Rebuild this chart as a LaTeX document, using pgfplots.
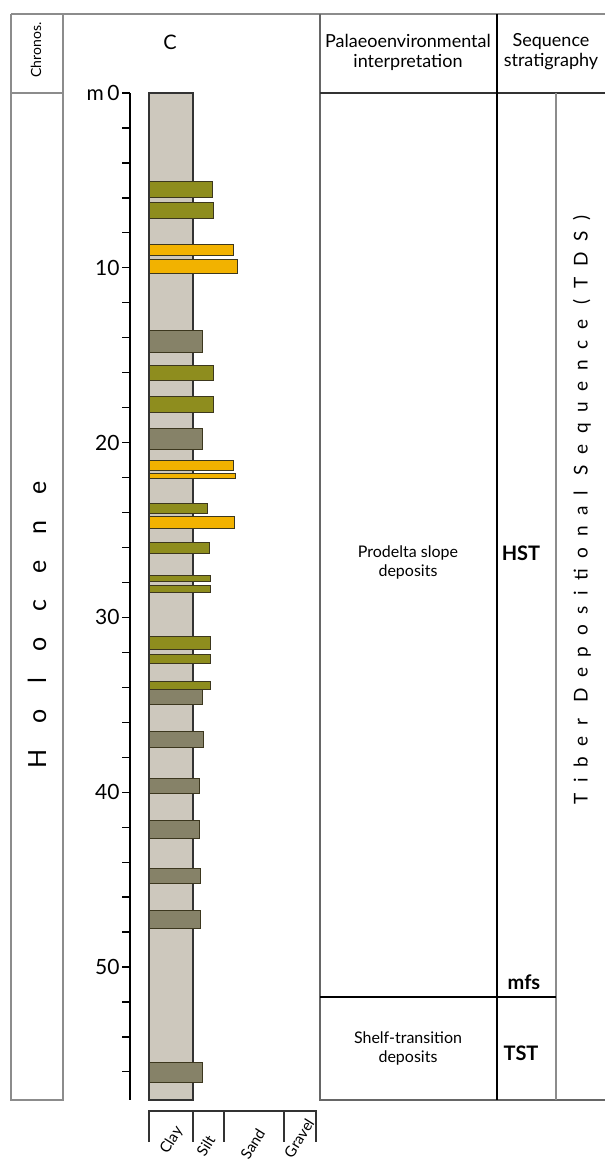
\documentclass[border=0pt]{standalone}
\usepackage{pgfplots}
\pgfplotsset{compat=1.18}
\usepackage{fontspec}
\setmainfont{Lato}
\definecolor{clay}{RGB}{205,200,189}
\definecolor{olivebed}{RGB}{142,141,30}
\definecolor{sandbed}{RGB}{242,178,0}
\definecolor{mudbed}{RGB}{134,130,104}
\definecolor{bedline}{RGB}{60,55,30}
\definecolor{framegray}{RGB}{140,140,140}
% bed: colour, top depth, base depth, grain-size extent
\newcommand{\bed}[4]{\addplot[fill=#1, draw=bedline, line width=0.5pt] coordinates {(0,#2) (#4,#2) (#4,#3) (0,#3)} --cycle;}
\begin{document}
\begin{tikzpicture}
\begin{scope}[x=0.5pt,y=-0.5pt]
\path[use as bounding box] (0,0) rectangle (605,1164);
% frame
\draw[framegray, line width=1pt] (11,14) -- (605,14);
\draw[framegray, line width=0.8pt] (11,14) -- (11,1100) -- (63,1100) -- (63,14);
\draw[framegray, line width=0.8pt] (11,93) -- (63,93);
\draw[black!60, line width=0.8pt] (320,14) -- (320,1100) -- (605,1100);
\draw[black!80, line width=0.8pt] (320,93) -- (605,93);
\draw[black, line width=0.8pt] (497,14) -- (497,1100);
\draw[framegray, line width=0.8pt] (556,93) -- (556,1100);
\draw[black, line width=0.8pt] (320,997) -- (556,997);
% texts
\node[rotate=90, font=\fontsize{7}{8}\selectfont] at (36,50) {Chronos.};
\node[font=\fontsize{10}{12}\selectfont] at (170,42) {C};
\node[align=center, font=\fontsize{9}{10}\selectfont] at (408,52) {Palaeoenvironmental\\interpretation};
\node[align=center, font=\fontsize{9}{10}\selectfont] at (551,52) {Sequence\\stratigraphy};
\node[align=center, font=\fontsize{8}{9.5}\selectfont] at (408,562) {Prodelta slope\\deposits};
\node[align=center, font=\fontsize{8}{9.5}\selectfont] at (408,1048) {Shelf-transition\\deposits};
\node[font=\fontsize{10}{12}\selectfont\bfseries] at (521,553) {HST};
\node[font=\fontsize{10}{12}\selectfont\bfseries] at (524,982) {mfs};
\node[font=\fontsize{10}{12}\selectfont\bfseries] at (521,1053) {TST};
\node[rotate=90, font=\fontsize{9.5}{10}\selectfont\addfontfeatures{LetterSpace=56}] at (582,510) {Tiber Depositional Sequence (TDS)};
\node[rotate=90, font=\fontsize{12.5}{14}\selectfont\addfontfeatures{LetterSpace=104}] at (37,625) {Holocene};
% grain-size scale
\draw[black!80, line width=0.6pt] (149,1142) -- (149,1111) -- (316,1111) -- (316,1142);
\foreach \gx in {193,224,284} \draw[black!80, line width=0.6pt] (\gx,1111) -- (\gx,1142);
\foreach \gx/\gy/\gl in {180/1127/Clay,212/1136/Silt,262/1129/Sand,311/1119/Gravel}
  \node[rotate=58, anchor=east, font=\fontsize{7.5}{9}\selectfont, inner sep=0.5pt] at (\gx,\gy) {\gl};
\end{scope}
\begin{axis}[
  at={(65pt,-46.5pt)}, anchor=north west,
  scale only axis, width=95pt, height=503.5pt,
  xmin=-19, xmax=171, ymin=0, ymax=57.61, y dir=reverse,
  axis x line=none, axis y line*=left,
  clip=false,
  ytick={0,10,20,30,40,50}, yticklabels={m\,0,10,20,30,40,50},
  minor ytick={2,4,...,56},
  tick align=outside, major tick length=4pt, minor tick length=4pt,
  tick style={black, line width=0.6pt},
  axis line style={black, line width=0.6pt},
  yticklabel style={font=\fontsize{10.5}{12}\selectfont, inner sep=1pt},
  /pgf/number format/assume math mode=true,
]
\addplot[fill=clay, draw=black!80, line width=0.6pt] coordinates {(0,0) (44,0) (44,57.61) (0,57.61)} --cycle;
\bed{olivebed}{5.09}{5.95}{63}
\bed{olivebed}{6.29}{7.15}{64}
\bed{sandbed}{8.64}{9.27}{84}
\bed{sandbed}{9.55}{10.30}{88}
\bed{mudbed}{13.56}{14.82}{53}
\bed{olivebed}{15.56}{16.42}{64}
\bed{olivebed}{17.39}{18.25}{64}
\bed{mudbed}{19.22}{20.37}{53}
\bed{sandbed}{21.00}{21.57}{84}
\bed{sandbed}{21.74}{22.08}{86}
\bed{olivebed}{23.51}{24.03}{58}
\bed{sandbed}{24.20}{24.89}{85}
\bed{olivebed}{25.74}{26.37}{60}
\bed{olivebed}{27.63}{27.97}{61}
\bed{olivebed}{28.20}{28.55}{61}
\bed{olivebed}{31.12}{31.81}{61}
\bed{olivebed}{32.15}{32.61}{61}
\bed{olivebed}{33.64}{34.10}{61}
\bed{mudbed}{34.10}{35.01}{53}
\bed{mudbed}{36.50}{37.47}{54}
\bed{mudbed}{39.24}{40.10}{50}
\bed{mudbed}{41.59}{42.62}{50}
\bed{mudbed}{44.34}{45.25}{51}
\bed{mudbed}{46.74}{47.77}{51}
\bed{mudbed}{55.49}{56.58}{53}
\addplot[draw=black!80, line width=0.6pt] coordinates {(0,0) (0,57.61)};
\end{axis}
\end{tikzpicture}
\end{document}
